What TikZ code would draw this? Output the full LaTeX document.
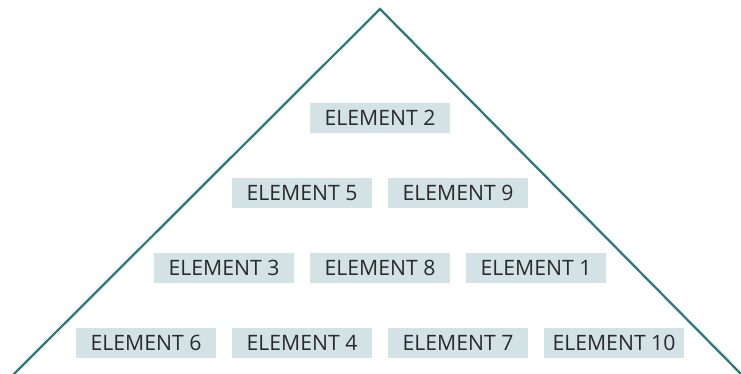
\documentclass[tikz,border=0pt]{standalone}
\usepackage{fontspec}
\setmainfont{Open Sans}
\usepackage{tikz}

\definecolor{boxfill}{HTML}{D3E2E5}
\definecolor{tealline}{HTML}{2B7A7B}
\definecolor{boxtext}{HTML}{2A2A2A}

\tikzset{
	elem/.style={shape=rectangle,fill=boxfill,text=boxtext,minimum width=105pt,minimum height=22.5pt,inner sep=0pt,font=\fontsize{15.9}{18}\selectfont},
	side/.style={draw=tealline,line width=1.7pt}
}

\begin{document}
\begin{tikzpicture}[x=0.75pt,y=-0.75pt]
	
	\useasboundingbox (0,0) rectangle (741,374);
	
	\coordinate (top) at (380, 9);
	\coordinate (left) at (12, 376);
	\coordinate (right) at (741, 374);
	
	\node[elem] (e2) at (380, 118)   {ELEMENT 2};
	
	\node[elem] (e5) at (302, 193)   {ELEMENT 5};
	\node[elem] (e9) at (458, 193)   {ELEMENT 9};
	
	\node[elem] (e3) at (224, 268)   {ELEMENT 3};
	\node[elem] (e8) at (380, 268)   {ELEMENT 8};
	\node[elem] (e1) at (536, 268)   {ELEMENT 1};
	
	\node[elem] (e6) at (146, 343)   {ELEMENT 6};
	\node[elem] (e4) at (302, 343)   {ELEMENT 4};
	\node[elem] (e7) at (458, 343)   {ELEMENT 7};
	\node[elem] (e10) at (614, 343)   {ELEMENT 10};
	
	\path[side] (left) -- (top) -- (right);
	
\end{tikzpicture}
\end{document}
